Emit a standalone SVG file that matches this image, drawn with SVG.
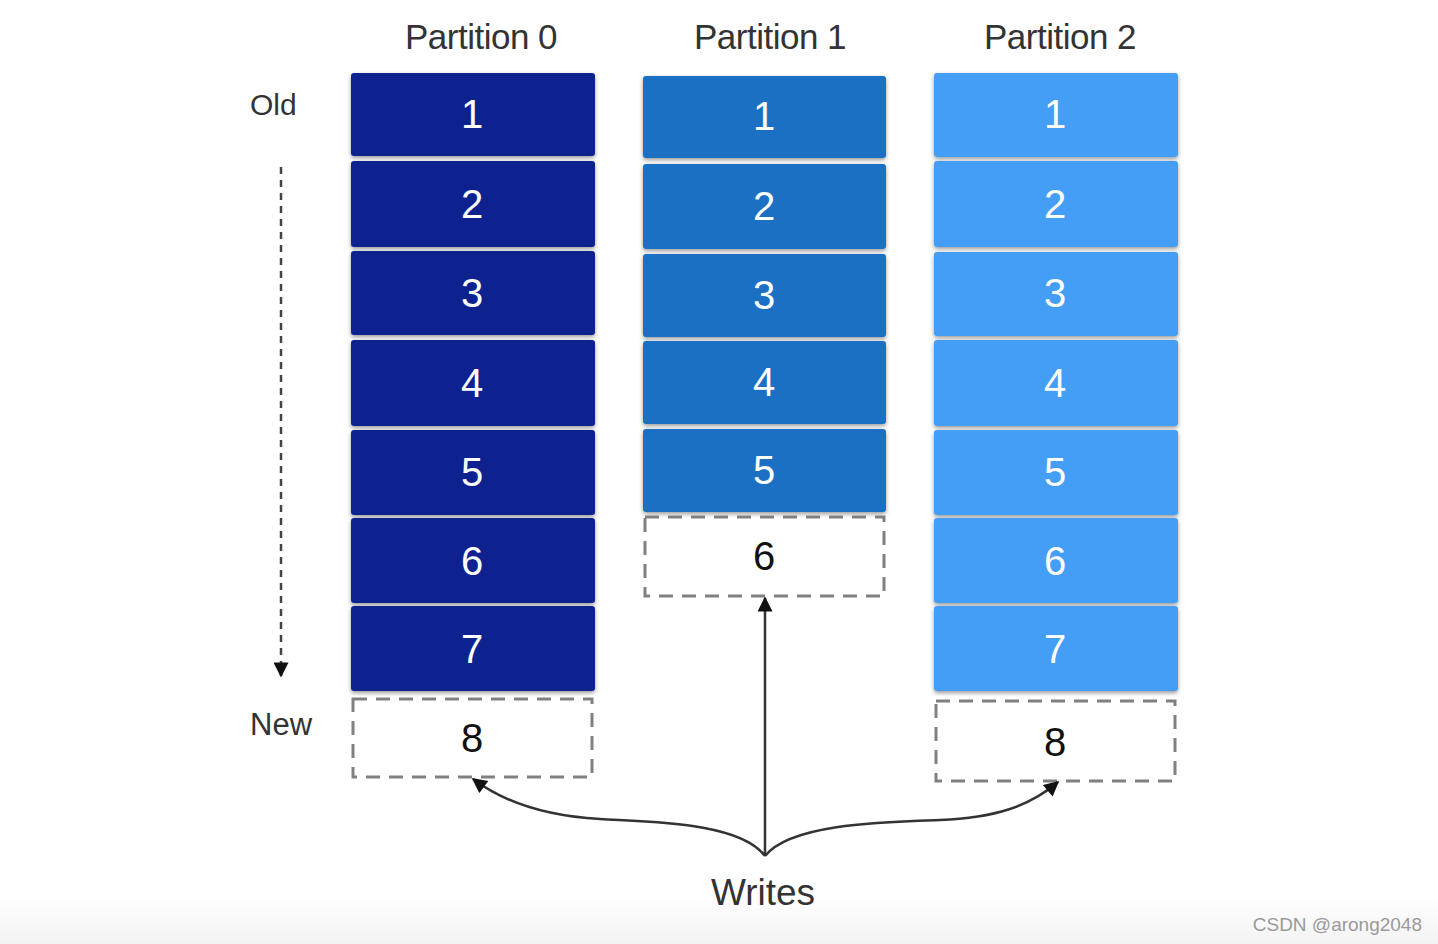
<svg xmlns="http://www.w3.org/2000/svg" width="1438" height="944" viewBox="0 0 1438 944">
<defs>
<style>
.lbl{font-family:"Liberation Sans",Arial,sans-serif;fill:#333;}
.num{font-family:"Liberation Sans",Arial,sans-serif;font-size:40px;fill:#fff;text-anchor:middle;}
.numk{font-family:"Liberation Sans",Arial,sans-serif;font-size:40px;fill:#111;text-anchor:middle;}
.p0{fill:#0b218f;}
.p1{fill:#1f6fc4;}
.p2{fill:#459ef5;}
.dash{fill:#fff;stroke:#808080;stroke-width:3;stroke-dasharray:14 9;}
.conn{fill:none;stroke:#333;stroke-width:2.5;}
</style>
<linearGradient id="bg" x1="0" y1="0" x2="0" y2="1">
<stop offset="0" stop-color="#ffffff"/>
<stop offset="1" stop-color="#f3f3f3"/>
</linearGradient>
<filter id="sh" x="-10%" y="-10%" width="120%" height="130%">
<feDropShadow dx="0" dy="2" stdDeviation="2" flood-color="#000" flood-opacity="0.4"/>
</filter>
<marker id="ah" viewBox="0 0 10 10" refX="9" refY="5" markerWidth="17" markerHeight="15" markerUnits="userSpaceOnUse" orient="auto">
<path d="M0,0 L10,5 L0,10 z" fill="#111"/>
</marker>
</defs>
<rect width="1438" height="944" fill="#fff"/>
<rect x="0" y="895" width="1438" height="49" fill="url(#bg)"/>

<g id="labels">
<text class="lbl" x="481" y="49" font-size="35" text-anchor="middle" letter-spacing="-0.5">Partition 0</text>
<text class="lbl" x="770" y="49" font-size="35" text-anchor="middle" letter-spacing="-0.5">Partition 1</text>
<text class="lbl" x="1060" y="49" font-size="35" text-anchor="middle" letter-spacing="-0.5">Partition 2</text>
<text class="lbl" x="250" y="115" font-size="30">Old</text>
<text class="lbl" x="250" y="735" font-size="31">New</text>
<text class="lbl" x="763" y="905" font-size="37" text-anchor="middle">Writes</text>
</g>

<g id="partition0" filter="url(#sh)">
<rect class="p0" x="351" y="73" width="244" height="83" rx="3"/>
<rect class="p0" x="351" y="161" width="244" height="86" rx="3"/>
<rect class="p0" x="351" y="251" width="244" height="84" rx="3"/>
<rect class="p0" x="351" y="340" width="244" height="86" rx="3"/>
<rect class="p0" x="351" y="430" width="244" height="85" rx="3"/>
<rect class="p0" x="351" y="518" width="244" height="85" rx="3"/>
<rect class="p0" x="351" y="606" width="244" height="85" rx="3"/>
</g>
<g id="partition0-text">
<text class="num" x="472" y="128">1</text>
<text class="num" x="472" y="218">2</text>
<text class="num" x="472" y="307">3</text>
<text class="num" x="472" y="397">4</text>
<text class="num" x="472" y="486">5</text>
<text class="num" x="472" y="575">6</text>
<text class="num" x="472" y="663">7</text>
</g>
<g id="p0-new">
<rect class="dash" x="353" y="699" width="239" height="78"/>
<text class="numk" x="472" y="752">8</text>
</g>

<g id="partition1" filter="url(#sh)">
<rect class="p1" x="643" y="76" width="243" height="82" rx="3"/>
<rect class="p1" x="643" y="164" width="243" height="85" rx="3"/>
<rect class="p1" x="643" y="254" width="243" height="83" rx="3"/>
<rect class="p1" x="643" y="341" width="243" height="83" rx="3"/>
<rect class="p1" x="643" y="429" width="243" height="83" rx="3"/>
</g>
<g id="partition1-text">
<text class="num" x="764" y="130">1</text>
<text class="num" x="764" y="220">2</text>
<text class="num" x="764" y="309">3</text>
<text class="num" x="764" y="396">4</text>
<text class="num" x="764" y="484">5</text>
</g>
<g id="p1-new">
<rect class="dash" x="645" y="517" width="239" height="79"/>
<text class="numk" x="764" y="570">6</text>
</g>

<g id="partition2" filter="url(#sh)">
<rect class="p2" x="934" y="73" width="244" height="84" rx="3"/>
<rect class="p2" x="934" y="161" width="244" height="86" rx="3"/>
<rect class="p2" x="934" y="252" width="244" height="84" rx="3"/>
<rect class="p2" x="934" y="340" width="244" height="86" rx="3"/>
<rect class="p2" x="934" y="430" width="244" height="85" rx="3"/>
<rect class="p2" x="934" y="518" width="244" height="85" rx="3"/>
<rect class="p2" x="934" y="606" width="244" height="85" rx="3"/>
</g>
<g id="partition2-text">
<text class="num" x="1055" y="128">1</text>
<text class="num" x="1055" y="218">2</text>
<text class="num" x="1055" y="307">3</text>
<text class="num" x="1055" y="397">4</text>
<text class="num" x="1055" y="486">5</text>
<text class="num" x="1055" y="575">6</text>
<text class="num" x="1055" y="663">7</text>
</g>
<g id="p2-new">
<rect class="dash" x="936" y="701" width="239" height="80"/>
<text class="numk" x="1055" y="756">8</text>
</g>

<g id="connectors">
<line x1="281" y1="167" x2="281" y2="676" stroke="#444" stroke-width="2.5" stroke-dasharray="7 6" marker-end="url(#ah)"/>
<line class="conn" x1="765" y1="856" x2="765" y2="598" marker-end="url(#ah)"/>
<path class="conn" d="M765,856 C740,822 650,822 600,819 C545,816 505,803 473,779" marker-end="url(#ah)"/>
<path class="conn" d="M765,856 C790,824 880,822 940,820 C995,818 1030,806 1058,782" marker-end="url(#ah)"/>
</g>

<text x="1422" y="931" font-family="Liberation Sans,Arial,sans-serif" font-size="19" fill="#9a9a9a" text-anchor="end">CSDN @arong2048</text>
</svg>
